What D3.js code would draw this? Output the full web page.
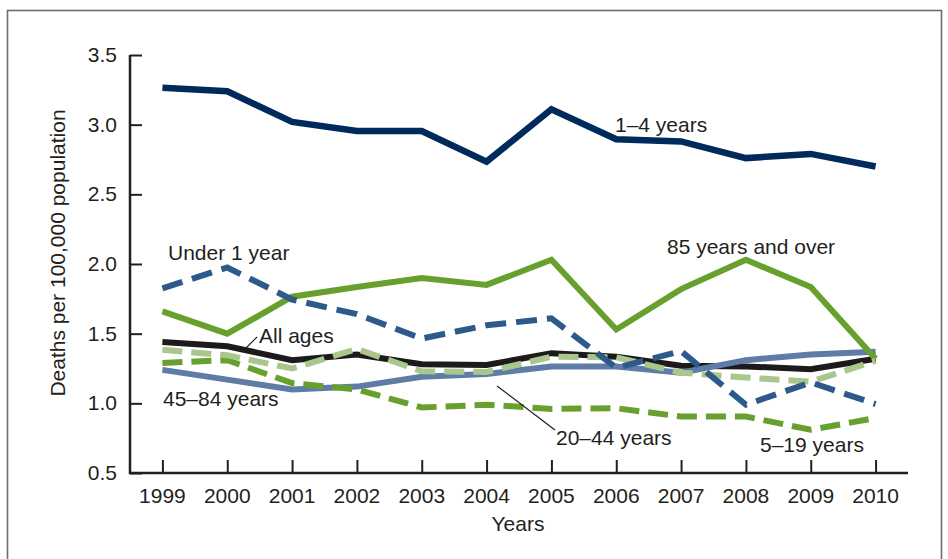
<!DOCTYPE html>
<html>
<head>
<meta charset="utf-8">
<script src="https://cdn.jsdelivr.net/npm/d3@7/dist/d3.min.js"></script>
<style>
  html, body { margin: 0; padding: 0; background: #fff; }
  svg { display: block; }
  text { font-family: "Liberation Sans", Arial, Helvetica, sans-serif; fill: #231f20; }
</style>
</head>
<body>
<svg id="chart" width="948" height="559"></svg>
<script>
const years = [1999, 2000, 2001, 2002, 2003, 2004, 2005, 2006, 2007, 2008, 2009, 2010];
const yTicks = [0.5, 1.0, 1.5, 2.0, 2.5, 3.0, 3.5];

const allAges     = [1.44, 1.41, 1.31, 1.35, 1.28, 1.275, 1.36, 1.335, 1.27, 1.265, 1.245, 1.32];
const age45to84   = [1.24, 1.17, 1.10, 1.12, 1.19, 1.21, 1.265, 1.265, 1.22, 1.31, 1.35, 1.37];
const age5to19    = [1.29, 1.31, 1.145, 1.10, 0.97, 0.99, 0.96, 0.965, 0.905, 0.905, 0.81, 0.895];
const age85plus   = [1.66, 1.50, 1.765, 1.835, 1.90, 1.85, 2.03, 1.53, 1.82, 2.03, 1.835, 1.32];
const age20to44   = [1.385, 1.345, 1.25, 1.39, 1.23, 1.225, 1.335, 1.33, 1.22, 1.185, 1.155, 1.305];
const under1      = [1.825, 1.975, 1.745, 1.64, 1.465, 1.56, 1.61, 1.255, 1.375, 0.99, 1.15, 0.995];
const age1to4     = [3.265, 3.24, 3.02, 2.955, 2.955, 2.735, 3.11, 2.895, 2.88, 2.76, 2.79, 2.70];

const seriesNames = ["All ages", "45–84 years", "5–19 years", "85 years and over", "20–44 years", "Under 1 year", "1–4 years"];
const seriesValues = [allAges, age45to84, age5to19, age85plus, age20to44, under1, age1to4];
const seriesColors = ["#1c1a1b", "#5f7ca7", "#68a02e", "#68a02e", "#a9c78c", "#2d5a8b", "#002a5c"];
const seriesDash   = [null, null, "20,9", null, "20,9", "21,10", null];

const svg = d3.select("#chart");

// frame
svg.append("rect")
  .attr("x", 7.5).attr("y", 10.5).attr("width", 934).attr("height", 600)
  .attr("fill", "none").attr("stroke", "#6d6d6d").attr("stroke-width", 1.6);

const x = d3.scaleLinear().domain([1998.5, 2010.5]).range([130, 908]);
const y = d3.scaleLinear().domain([0.5, 3.5]).range([473, 55]);

// lines
const line = d3.line().x((d, i) => x(years[i])).y(d => y(d)).curve(d3.curveLinear);
seriesValues.forEach((vals, k) => {
  svg.append("path")
    .datum(vals)
    .attr("d", line)
    .attr("fill", "none")
    .attr("stroke", seriesColors[k])
    .attr("stroke-width", k === 6 ? 6.5 : 6)
    .attr("stroke-linejoin", "miter")
    .attr("stroke-dasharray", seriesDash[k]);
});

// axes
const yAxis = d3.axisRight(y).tickValues(yTicks).tickSize(12).tickFormat("");
const gy = svg.append("g").attr("transform", "translate(130,0)").call(yAxis);
gy.select(".domain").remove();
gy.selectAll(".tick line").attr("stroke", "#231f20").attr("stroke-width", 2);

const xAxis = d3.axisTop(x).tickValues(years).tickSize(13).tickFormat("");
const gx = svg.append("g").attr("transform", "translate(0,473)").call(xAxis);
gx.select(".domain").remove();
gx.selectAll(".tick line").attr("stroke", "#231f20").attr("stroke-width", 2);

svg.append("path")
  .attr("d", `M${x(1998.5)},${y(3.5)}V${y(0.5)}H${x(2010.5)}`)
  .attr("fill", "none").attr("stroke", "#231f20").attr("stroke-width", 2.5);

// tick labels
svg.selectAll(".ylab").data(yTicks).enter().append("text")
  .attr("x", 117).attr("y", d => y(d) + 7)
  .attr("text-anchor", "end").attr("font-size", 21)
  .text(d => d.toFixed(1));

svg.selectAll(".xlab").data(years).enter().append("text")
  .attr("x", d => x(d)).attr("y", 503)
  .attr("text-anchor", "middle").attr("font-size", 21)
  .text(d => d);

svg.append("text").attr("x", 518).attr("y", 531).attr("text-anchor", "middle")
  .attr("font-size", 21).text("Years");

svg.append("text")
  .attr("transform", "translate(65,253) rotate(-90)")
  .attr("text-anchor", "middle").attr("font-size", 21)
  .text("Deaths per 100,000 population");

// series labels
const labels = [
  {t: "1–4 years", x: 615, y: 132},
  {t: "Under 1 year", x: 168, y: 260},
  {t: "85 years and over", x: 667, y: 254},
  {t: "All ages", x: 259, y: 343},
  {t: "45–84 years", x: 163, y: 406},
  {t: "20–44 years", x: 556, y: 445},
  {t: "5–19 years", x: 760, y: 452}
];
svg.selectAll(".slab").data(labels).enter().append("text")
  .attr("x", d => d.x).attr("y", d => d.y).attr("font-size", 21)
  .text(d => d.t);

// leader lines
svg.append("line").attr("x1", 257).attr("y1", 337).attr("x2", 245).attr("y2", 349)
  .attr("stroke", "#231f20").attr("stroke-width", 1.2);
svg.append("line").attr("x1", 497).attr("y1", 386).attr("x2", 555).attr("y2", 430)
  .attr("stroke", "#231f20").attr("stroke-width", 1.2);
</script>
</body>
</html>
